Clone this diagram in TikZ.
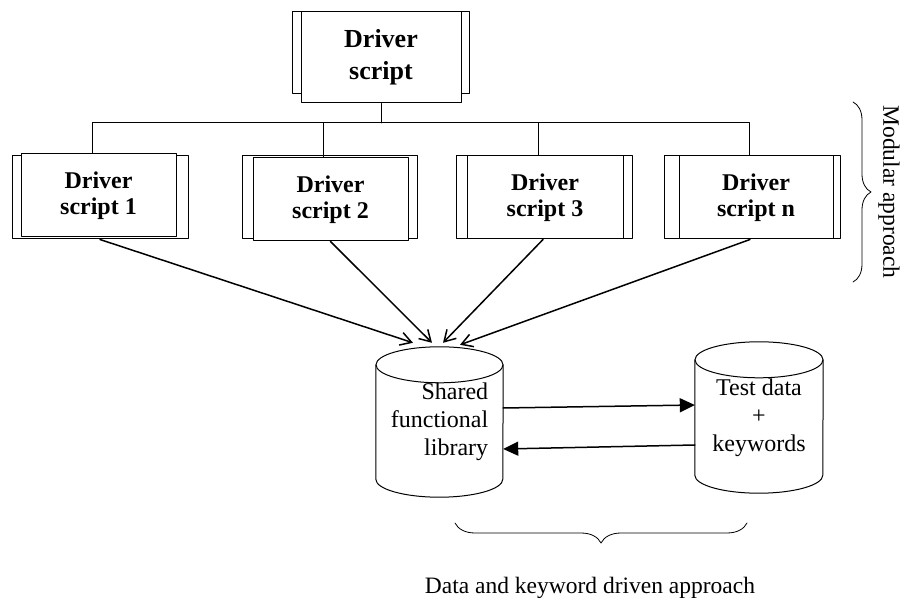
\documentclass[tikz,border=0pt]{standalone}
\usepackage{fontspec}
\setmainfont{Liberation Serif}
\usepackage{pgf,tikz}
\usetikzlibrary{arrows.meta}
\usetikzlibrary{decorations.pathreplacing}

\begin{document}
\begin{tikzpicture}[line cap=round,line join=round,>={Straight Barb[length=11pt,width=13pt]},x=1pt,y=-1pt,
  backbox/.style={draw,line width=1pt,fill=white,inner sep=0pt,minimum height=83pt},
  drvbox/.style={draw,line width=1pt,fill=white,inner sep=0pt,minimum height=83pt,align=center,font=\bfseries\fontsize{24}{26.5}\selectfont},
  cyl/.style={inner sep=0pt,font=\fontsize{24}{28}\selectfont},
  lbl/.style={font=\fontsize{23.5}{27}\selectfont}]
\useasboundingbox (0,0) rectangle (900,601);
%
\node[backbox,minimum width=177pt,minimum height=82pt] (topb) at (380.5,53) {};
\node[drvbox,minimum width=160pt,minimum height=91pt,font=\bfseries\fontsize{26}{32}\selectfont] (top) at (381,57.5) {Driver\\script};
%
\node[backbox,minimum width=176pt] (d1b) at (100,197.5) {};
\node[drvbox,minimum width=155pt] (d1) at (98.5,195.5) {Driver\\script 1};
\node[backbox,minimum width=175pt] (d2b) at (329.5,197.5) {};
\node[drvbox,minimum width=155pt] (d2) at (330.5,199.5) {Driver\\script 2};
\node[backbox,minimum width=176pt] (d3b) at (544,197.5) {};
\node[drvbox,minimum width=156pt] (d3) at (545,197.5) {Driver\\script 3};
\node[backbox,minimum width=176pt] (dnb) at (752,197.5) {};
\node[drvbox,minimum width=154pt] (dn) at (756,197.5) {Driver\\script n};
%
\coordinate (bus) at (381,123);
\draw[line width=1pt] (top.south) -- (bus);
\draw[line width=1pt] (bus) -| ([xshift=-6pt]d1.north);
\draw[line width=1pt] (bus) -| ([xshift=-7pt]d2.north);
\draw[line width=1pt] (bus) -| ([xshift=-7pt]d3.north);
\draw[line width=1pt] (bus) -| ([xshift=-7pt]dn.north);
%
\node[cyl,minimum width=127pt,minimum height=114pt,align=right] (lib) at (439.5,422) {Shared\\functional\\library};
\draw[line width=1pt] (lib.north west) -- (lib.south west) arc[start angle=180,end angle=360,x radius=63.5pt,y radius=18pt] -- (lib.north east);
\draw[line width=1pt] (lib.north) ellipse [x radius=63.5pt,y radius=18pt];
%
\node[cyl,minimum width=128pt,minimum height=115pt,align=center] (tkw) at (759,417.5) {Test data\\+\\keywords};
\draw[line width=1pt] (tkw.north west) -- (tkw.south west) arc[start angle=180,end angle=360,x radius=64pt,y radius=18pt] -- (tkw.north east);
\draw[line width=1pt] (tkw.north) ellipse [x radius=64pt,y radius=18pt];
%
\draw[->,line width=1.5pt] (d1b.south) -- ([xshift=-26.5pt,yshift=22pt]lib.north);
\draw[->,line width=1.5pt] (d2.south) -- ([xshift=-7.5pt,yshift=22pt]lib.north);
\draw[->,line width=1.5pt] ([xshift=-2pt]d3.south) -- ([xshift=3.5pt,yshift=22pt]lib.north);
\draw[->,line width=1.5pt] ([xshift=-6pt]dn.south) -- ([xshift=20.5pt,yshift=20pt]lib.north);
%
\draw[-{Triangle[length=15pt,width=14pt]},line width=1.5pt] ([yshift=14pt]lib.east) -- ([yshift=12.5pt]tkw.west);
\draw[-{Triangle[length=15pt,width=14pt]},line width=1.5pt] ([yshift=-27.5pt]tkw.west) -- ([yshift=-27pt]lib.east);
%
\coordinate (mtop) at (853,102);
\coordinate (mbot) at (853,282);
\draw[line width=0.8pt,decorate,decoration={brace,amplitude=18pt}] (mtop) -- (mbot);
\node[lbl,rotate=-90] (modlbl) at (889,192) {Modular approach};
%
\coordinate (dbr) at (747,523);
\coordinate (dbl) at (455,523);
\draw[line width=0.8pt,decorate,decoration={brace,amplitude=20pt}] (dbr) -- (dbl);
\node[lbl] (dkwlbl) at (590,588) {Data and keyword driven approach};
\end{tikzpicture}
\end{document}
